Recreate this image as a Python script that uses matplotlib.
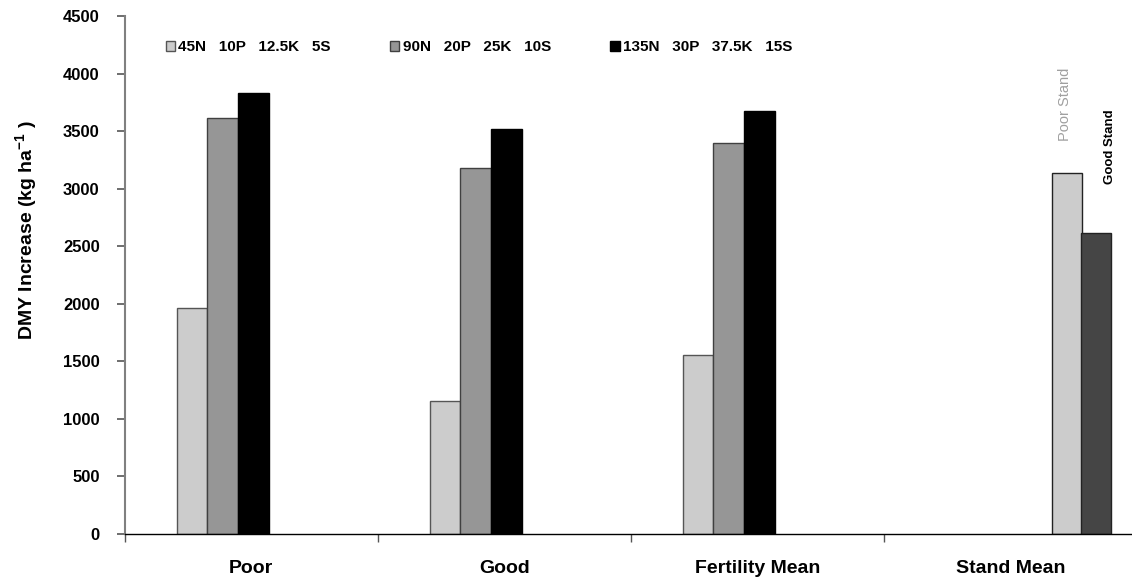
import matplotlib
matplotlib.use("Agg")
import matplotlib.pyplot as plt
import numpy as np

plt.rcParams['font.family'] = ['Liberation Sans', 'DejaVu Sans']
plt.rcParams['mathtext.fontset'] = 'custom'
plt.rcParams['mathtext.rm'] = 'Liberation Sans:bold'
plt.rcParams['mathtext.bf'] = 'Liberation Sans:bold'

categories = ["Poor", "Good", "Fertility Mean", "Stand Mean"]
series_labels = ["45N   10P   12.5K   5S", "90N   20P   25K   10S", "135N   30P   37.5K   15S"]
fert_low = [1962, 1153, 1557]
fert_mid = [3613, 3184, 3398]
fert_high = [3835, 3518, 3676]
stand_labels = ["Poor Stand", "Good Stand"]
stand_values = [3137, 2616]

W, H = 1132, 580
fig = plt.figure(figsize=(W / 100, H / 100), dpi=100)
ax = fig.add_axes([124.7 / W, 46 / H, (1137 - 124.7) / W, (534 - 16.3) / H])

bw = 0.1212
x0 = np.arange(3) - 0.295
colors = ["#CCCCCC", "#969696", "#000000"]
edge = ["#555555", "#404040", "#000000"]
for k, vals in enumerate([fert_low, fert_mid, fert_high]):
    ax.bar(x0 + k * bw, vals, width=bw, align='edge', color=colors[k],
           edgecolor=edge[k], linewidth=1.0, label=series_labels[k], zorder=2)

stand_x = [3 + 0.1636, 3 + 0.2771]
stand_colors = ["#CCCCCC", "#454545"]
for sx, sv, sc in zip(stand_x, stand_values, stand_colors):
    ax.bar(sx, sv, width=0.119, align='edge', color=sc, edgecolor="#222222",
           linewidth=1.0, zorder=2)

ax.text(3.215, 3738, stand_labels[0], rotation=90, ha='center', va='center',
        fontsize=10.5, fontweight='normal', color='#A0A0A0')
ax.text(3.393, 3364, stand_labels[1], rotation=90, ha='center', va='center',
        fontsize=9.5, fontweight='bold', color='#000000')

ax.set_xlim(-0.5, 3.5)
ax.set_ylim(0, 4500)
ax.set_yticks(np.arange(0, 4501, 500))
ax.set_yticklabels([str(v) for v in range(0, 4501, 500)], fontsize=12, fontweight='bold')
ax.set_xticks(np.arange(4))
ax.set_xticklabels(categories, fontsize=14, fontweight='bold')
ax.set_xticks(np.arange(-0.5, 3.6, 1), minor=True)
ax.tick_params(axis='x', which='major', length=0, pad=19)
ax.tick_params(axis='x', which='minor', length=6, width=1, color='#555555')
ax.tick_params(axis='y', length=6, width=1.2, color='#555555', pad=12)

for s in ['top', 'right']:
    ax.spines[s].set_visible(False)
ax.spines['left'].set_color('#808080')
ax.spines['left'].set_linewidth(1.5)
ax.spines['bottom'].set_color('#000000')
ax.spines['bottom'].set_linewidth(1.0)

fig.text(27 / W, 1 - 230 / H, r"DMY Increase (kg ha$^{-1}$ )", rotation=90,
         ha='center', va='center', fontsize=14, fontweight='bold')

leg = ax.legend(loc='center left', bbox_to_anchor=(166 / W, 1 - 47 / H),
                bbox_transform=fig.transFigure, ncol=3, frameon=False,
                borderpad=0, borderaxespad=0, handlelength=0.6, handleheight=0.65,
                handletextpad=0.2, columnspacing=3.9,
                prop={'weight': 'bold', 'size': 11})

fig.savefig("out.png", dpi=100)
